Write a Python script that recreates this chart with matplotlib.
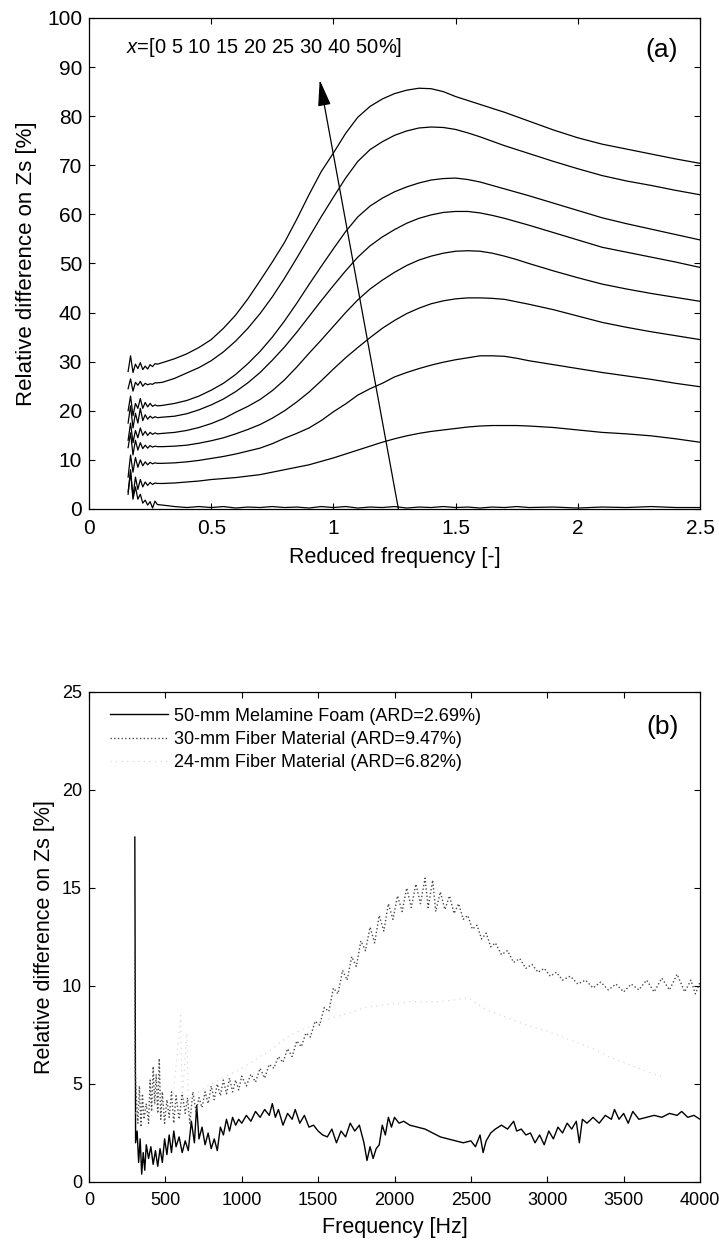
import numpy as np
import matplotlib
matplotlib.use('Agg')
import matplotlib.pyplot as plt

plt.rcParams['font.family'] = ['Liberation Sans', 'DejaVu Sans']
plt.rcParams['mathtext.fontset'] = 'custom'
plt.rcParams['mathtext.rm'] = 'Liberation Sans'
plt.rcParams['mathtext.it'] = 'Liberation Sans:italic'

# ---- (a) relative difference vs reduced frequency, one curve per x ----
fred = [0.16, 0.17, 0.18, 0.19, 0.20, 0.21, 0.22, 0.23, 0.24, 0.25, 0.26, 0.27, 0.28,
        0.30, 0.35, 0.40, 0.45, 0.50, 0.55, 0.60, 0.65, 0.70, 0.75, 0.80, 0.85, 0.90, 0.95,
        1.00, 1.05, 1.10, 1.15, 1.20, 1.25, 1.30, 1.35, 1.40, 1.45, 1.50, 1.55, 1.60, 1.65,
        1.70, 1.75, 1.80, 1.90, 2.00, 2.10, 2.20, 2.30, 2.40, 2.50]
x_levels = ['0', '5', '10', '15', '20', '25', '30', '40', '50']
zs_x0 = [3.5, 7.5, 2.0, 4.5, 2.0, 3.0, 1.2, 1.8, 0.8, 1.5, 0.2, 1.6, 0.9,
         0.8, 0.5, 0.3, 0.5, 0.3, 0.5, 0.2, 0.4, 0.3, 0.5, 0.3, 0.4, 0.2, 0.5,
         0.3, 0.5, 0.2, 0.4, 0.3, 0.5, 0.2, 0.4, 0.3, 0.5, 0.3, 0.4, 0.2, 0.4,
         0.3, 0.5, 0.3, 0.4, 0.2, 0.4, 0.3, 0.5, 0.3, 0.3]
zs_x5 = [3.0, 8.0, 2.5, 6.5, 4.0, 6.0, 4.5, 5.5, 4.8, 5.4, 5.0, 5.3, 5.2,
         5.2, 5.3, 5.5, 5.7, 6.0, 6.2, 6.4, 6.7, 7.0, 7.5, 8.0, 8.5, 9.0, 9.7,
         10.4, 11.2, 12.0, 12.8, 13.6, 14.3, 14.9, 15.4, 15.8, 16.1, 16.4, 16.7, 16.9, 17.0,
         17.0, 17.0, 16.9, 16.6, 16.1, 15.6, 15.3, 14.9, 14.3, 13.6]
zs_x10 = [6.5, 11.0, 7.5, 10.5, 8.5, 10.0, 8.8, 9.6, 9.0, 9.5, 9.2, 9.4, 9.3,
          9.3, 9.4, 9.6, 9.9, 10.3, 10.7, 11.2, 11.8, 12.4, 13.3, 14.4, 15.4, 16.5, 18.0,
          19.8, 21.4, 23.2, 24.5, 25.6, 26.9, 27.8, 28.6, 29.3, 29.9, 30.4, 30.8, 31.2, 31.2,
          31.1, 30.7, 30.2, 29.4, 28.6, 27.8, 27.1, 26.4, 25.6, 24.9]
zs_x15 = [12.5, 15.5, 11.0, 14.0, 12.0, 13.5, 12.3, 13.0, 12.4, 12.9, 12.6, 12.8, 12.7,
          12.7, 12.8, 13.0, 13.4, 13.9, 14.5, 15.3, 16.2, 17.2, 18.5, 20.0, 21.8, 23.8, 26.1,
          28.5, 30.8, 32.9, 34.9, 36.8, 38.4, 39.8, 40.9, 41.8, 42.4, 42.8, 43.0, 43.0, 42.9,
          42.7, 42.2, 41.7, 40.6, 39.3, 38.0, 37.0, 36.1, 35.3, 34.5]
zs_x20 = [14.0, 17.5, 13.5, 16.0, 14.5, 16.5, 15.0, 15.8, 15.0, 15.6, 15.2, 15.5, 15.3,
          15.4, 15.6, 16.0, 16.6, 17.4, 18.4, 19.7, 20.9, 22.3, 24.1, 26.3, 28.9, 31.7, 34.4,
          37.2, 40.0, 42.6, 44.8, 46.6, 48.2, 49.6, 50.7, 51.5, 52.1, 52.5, 52.6, 52.5, 52.1,
          51.5, 50.8, 50.0, 48.5, 47.1, 45.8, 44.8, 43.9, 43.1, 42.3]
zs_x25 = [17.5, 21.0, 16.5, 19.5, 17.5, 20.5, 18.0, 19.2, 18.3, 18.9, 18.5, 18.8, 18.6,
          18.7, 18.9, 19.4, 20.2, 21.2, 22.4, 23.9, 25.7, 27.8, 30.3, 33.0, 36.0, 39.2, 42.4,
          45.5, 48.5, 51.3, 53.6, 55.4, 56.9, 58.2, 59.2, 59.9, 60.4, 60.6, 60.6, 60.3, 59.8,
          59.2, 58.5, 57.8, 56.3, 54.8, 53.3, 52.3, 51.3, 50.3, 49.2]
zs_x30 = [20.0, 23.0, 19.0, 21.5, 20.5, 22.5, 20.5, 21.7, 20.8, 21.5, 20.9, 21.2, 21.0,
          21.1, 21.5, 22.1, 23.0, 24.2, 25.6, 27.4, 29.6, 32.1, 35.0, 38.3, 41.9, 45.7, 49.4,
          53.0, 56.5, 59.5, 61.7, 63.3, 64.6, 65.6, 66.4, 67.0, 67.3, 67.4, 67.1, 66.6, 65.9,
          65.2, 64.5, 63.8, 62.3, 60.8, 59.3, 58.1, 57.0, 55.9, 54.8]
zs_x40 = [24.5, 26.5, 24.0, 25.8, 25.2, 26.0, 25.0, 25.6, 25.3, 25.5, 25.4, 25.7, 25.7,
          25.8, 26.6, 27.7, 28.8, 30.2, 32.0, 34.2, 36.8, 39.8, 43.2, 47.0, 51.1, 55.3, 59.5,
          63.5, 67.4, 70.8, 73.2, 74.8, 76.1, 77.0, 77.6, 77.8, 77.7, 77.3, 76.6, 75.8, 74.9,
          74.0, 73.2, 72.4, 70.8, 69.3, 67.9, 66.8, 65.9, 64.9, 64.0]
zs_x50 = [28.0, 31.2, 27.8, 29.5, 28.6, 29.8, 28.4, 29.1, 28.5, 29.4, 29.0, 29.6, 29.5,
          29.8, 30.6, 31.6, 32.9, 34.5, 36.8, 39.5, 42.8, 46.5, 50.3, 54.3, 59.0, 64.0, 68.7,
          72.5, 76.5, 79.8, 82.0, 83.5, 84.6, 85.3, 85.7, 85.6, 85.0, 84.0, 83.2, 82.4, 81.6,
          80.8, 79.9, 79.0, 77.2, 75.6, 74.3, 73.3, 72.3, 71.3, 70.4]
curves_a = [zs_x0, zs_x5, zs_x10, zs_x15, zs_x20, zs_x25, zs_x30, zs_x40, zs_x50]

# ---- (b) relative difference vs frequency for three materials ----
f_mel = [300, 305, 315, 325, 335, 345, 355, 365, 375, 390, 405, 420, 435, 450, 465, 480, 495, 510,
         525, 540, 555, 570, 590, 610, 630, 650, 670, 690, 705, 720, 740, 760, 780, 800, 820, 840,
         860, 880, 900, 920, 940, 960, 980, 1000, 1030, 1060, 1090, 1120, 1150, 1180, 1200, 1220,
         1240, 1270, 1300, 1330, 1350, 1380, 1410, 1440, 1470, 1500, 1530, 1560, 1590, 1620, 1650,
         1680, 1710, 1740, 1770, 1800, 1820, 1840, 1860, 1880, 1900, 1920, 1940, 1960, 1980, 2000,
         2030, 2060, 2100, 2150, 2200, 2250, 2300, 2350, 2400, 2450, 2500, 2530, 2560, 2580, 2600,
         2630, 2660, 2700, 2740, 2780, 2800, 2830, 2860, 2890, 2920, 2950, 2980, 3010, 3040, 3070,
         3100, 3130, 3160, 3190, 3210, 3230, 3260, 3300, 3340, 3380, 3420, 3440, 3470, 3500, 3530,
         3560, 3600, 3650, 3700, 3750, 3800, 3850, 3880, 3920, 3960, 4000]
zs_mel = [17.6, 2.0, 2.6, 1.0, 2.2, 0.4, 1.5, 0.6, 1.9, 1.2, 1.8, 0.9, 1.6, 0.8, 1.7, 1.0, 2.2, 1.4,
          2.4, 1.5, 2.6, 1.8, 2.3, 1.5, 2.1, 1.6, 3.1, 2.0, 3.9, 2.2, 2.8, 1.9, 2.5, 1.7, 2.2, 1.6,
          2.8, 2.4, 3.2, 2.6, 3.3, 2.9, 3.2, 3.0, 3.4, 3.1, 3.6, 3.3, 3.7, 3.4, 4.0, 3.3,
          3.7, 2.9, 3.5, 3.2, 3.7, 3.0, 3.4, 2.8, 2.9, 2.6, 2.4, 2.3, 2.7, 2.0, 2.6,
          2.3, 3.0, 2.6, 2.9, 2.0, 1.1, 1.8, 1.2, 1.7, 1.9, 2.9, 2.4, 3.3, 2.8, 3.3,
          3.0, 3.1, 2.9, 2.8, 2.7, 2.5, 2.3, 2.2, 2.1, 2.0, 2.1, 1.8, 2.4, 1.5, 2.1,
          2.5, 2.7, 2.9, 2.7, 3.1, 2.6, 2.7, 2.4, 2.5, 2.0, 2.4, 1.9, 2.6, 2.2, 2.8,
          2.5, 3.0, 2.7, 3.1, 2.0, 3.2, 3.0, 3.3, 3.0, 3.4, 3.2, 3.7, 3.2, 3.5, 3.0,
          3.6, 3.2, 3.3, 3.4, 3.3, 3.5, 3.4, 3.6, 3.3, 3.4, 3.2]

f_fib30 = [300, 302, 310, 320, 330, 340, 350, 360, 375, 390, 400, 410, 420, 430, 440, 450, 460, 470,
           480, 495, 510, 525, 540, 555, 570, 590, 610, 630, 645, 660, 680, 700, 720, 740, 760, 780,
           800, 820, 840, 860, 880, 900, 920, 940, 960, 980, 1000, 1030, 1060, 1090, 1120, 1150,
           1180, 1210, 1240, 1270, 1300, 1330, 1360, 1390, 1420, 1450, 1480, 1510, 1540, 1570, 1600,
           1630, 1660, 1690, 1720, 1750, 1780, 1810, 1840, 1870, 1900, 1930, 1960, 1990, 2020, 2050,
           2080, 2110, 2140, 2170, 2200, 2220, 2250, 2270, 2300, 2330, 2360, 2390, 2420, 2450, 2480,
           2510, 2540, 2570, 2600, 2630, 2660, 2700, 2740, 2780, 2820, 2860, 2900, 2940, 2980, 3020,
           3060, 3100, 3150, 3200, 3250, 3300, 3350, 3400, 3450, 3500, 3550, 3600, 3650, 3700, 3750,
           3800, 3850, 3900, 3940, 3970, 4000]
zs_fib30 = [11.7, 5.8, 4.3, 3.0, 4.9, 2.8, 4.5, 3.2, 4.0, 3.0, 5.2, 3.6, 5.9, 4.0, 5.5, 3.5, 6.3, 3.2,
            4.6, 3.0, 4.2, 3.3, 4.6, 3.0, 4.4, 3.2, 4.5, 3.5, 4.3, 3.0, 4.6, 3.6, 4.3, 3.8, 4.6, 4.0,
            4.9, 4.2, 5.0, 4.4, 5.2, 4.5, 5.3, 4.6, 5.2, 4.7, 5.4, 4.9, 5.5, 5.1, 5.8, 5.3,
            6.0, 5.8, 6.4, 6.1, 6.8, 6.4, 7.2, 6.9, 7.6, 7.4, 8.2, 8.0, 8.9, 8.7, 9.9,
            9.6, 10.8, 10.3, 11.5, 11.0, 12.3, 11.8, 13.0, 12.2, 13.6, 12.8, 14.2, 13.4, 14.6, 13.8,
            15.0, 14.0, 15.2, 14.2, 15.5, 14.0, 15.4, 13.8, 14.8, 13.9, 14.6, 13.7, 14.2, 13.4, 13.6,
            12.9, 13.1, 12.4, 12.7, 12.0, 12.2, 11.6, 11.8, 11.2, 11.4, 10.9, 11.1, 10.7, 10.9, 10.5,
            10.7, 10.3, 10.5, 10.1, 10.3, 9.9, 10.2, 9.8, 10.1, 9.7, 10.1, 9.8, 10.3, 9.7, 10.4,
            9.8, 10.6, 9.7, 10.3, 9.6, 10.2]

f_fib24 = [300, 350, 400, 450, 500, 550, 600, 610, 640, 650, 700, 800, 900, 1000, 1100, 1200, 1300,
           1400, 1500, 1600, 1700, 1800, 1900, 2000, 2100, 2200, 2300, 2400, 2480, 2600, 2700, 2800,
           2900, 3000, 3100, 3200, 3300, 3400, 3500, 3600, 3700, 3750]
zs_fib24 = [3.5, 4.0, 3.2, 4.5, 3.8, 4.2, 8.5, 4.0, 7.6, 4.2, 4.5, 5.0, 5.4, 5.8, 6.3, 6.8, 7.4,
            7.8, 8.1, 8.4, 8.6, 8.9, 9.0, 9.1, 9.2, 9.2, 9.2, 9.3, 9.4, 8.8, 8.5, 8.2,
            7.9, 7.7, 7.4, 7.1, 6.8, 6.4, 6.1, 5.8, 5.5, 5.4]

labels_b = ['50-mm Melamine Foam (ARD=2.69%)',
            '30-mm Fiber Material (ARD=9.47%)',
            '24-mm Fiber Material (ARD=6.82%)']

W, H = 719, 1240
fig = plt.figure(figsize=(W / 100, H / 100), dpi=100)
ax1 = fig.add_axes([89 / W, 1 - 509 / H, 611 / W, 491 / H])
ax2 = fig.add_axes([89 / W, 1 - 1182 / H, 611 / W, 490 / H])

# panel (a)
for zs in curves_a:
    ax1.plot(fred, zs, color='k', lw=0.9)
ax1.annotate('', xy=(0.944, 87.4), xytext=(1.266, 0),
             arrowprops=dict(arrowstyle='-|>,head_length=0.9,head_width=0.22', color='k',
                             lw=0.9, mutation_scale=18, shrinkA=0, shrinkB=0))
ax1.text(0.06, 0.939, r'$x$=[' + ' '.join(x_levels) + '%]', transform=ax1.transAxes,
         fontsize=14.5, va='center', ha='left')
ax1.text(0.938, 0.935, '(a)', transform=ax1.transAxes, fontsize=19, va='center', ha='center')
ax1.set_xlim(0, 2.5)
ax1.set_ylim(0, 100)
ax1.set_xticks(np.arange(0, 2.51, 0.5))
ax1.set_xticklabels(['0', '0.5', '1', '1.5', '2', '2.5'])
ax1.set_yticks(np.arange(0, 101, 10))
ax1.tick_params(direction='in', top=True, right=True, length=4, width=0.8, labelsize=15)
ax1.tick_params(axis='x', pad=7)
ax1.tick_params(axis='y', pad=5)
ax1.set_xlabel('Reduced frequency [-]', fontsize=15.5, va='top')
ax1.set_ylabel('Relative difference on Zs [%]', fontsize=16)
ax1.xaxis.set_label_coords(0.5, -0.077)
ax1.yaxis.set_label_coords(-0.085, 0.5)

# panel (b)
ax2.plot(f_mel, zs_mel, color='k', lw=1.0, label=labels_b[0])
ax2.plot(f_fib30, zs_fib30, color='#4a4a4a', lw=1.0, ls=':', label=labels_b[1])
ax2.plot(f_fib24, zs_fib24, color='#d2d2d2', lw=0.8, ls=(0, (1, 4)), label=labels_b[2])
ax2.text(0.938, 0.929, '(b)', transform=ax2.transAxes, fontsize=19, va='center', ha='center')
ax2.legend(loc='upper left', bbox_to_anchor=(0.034, 0.968), frameon=False, fontsize=13,
           handlelength=3.2, handletextpad=0.35, labelspacing=0.35, borderpad=0,
           borderaxespad=0)
ax2.set_xlim(0, 4000)
ax2.set_ylim(0, 25)
ax2.set_xticks(np.arange(0, 4001, 500))
ax2.set_yticks(np.arange(0, 26, 5))
ax2.tick_params(direction='in', top=True, right=True, length=4, width=0.8, labelsize=13)
ax2.tick_params(axis='x', pad=7)
ax2.tick_params(axis='y', pad=5)
ax2.set_xlabel('Frequency [Hz]', fontsize=15.5, va='top')
ax2.set_ylabel('Relative difference on Zs [%]', fontsize=15.5)
ax2.xaxis.set_label_coords(0.5, -0.072)
ax2.yaxis.set_label_coords(-0.056, 0.5)

for ax in (ax1, ax2):
    for s in ax.spines.values():
        s.set_linewidth(0.9)

fig.savefig('out.png', dpi=100)
